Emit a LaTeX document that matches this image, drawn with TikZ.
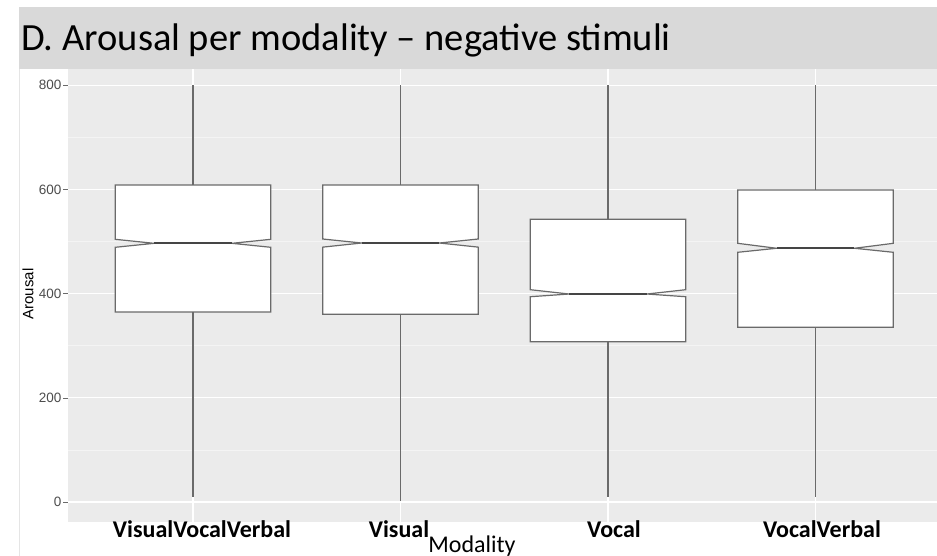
\documentclass[tikz,border=0pt]{standalone}
\usepackage{fontspec}
\setmainfont{Carlito}
\newfontfamily\plotfont{Liberation Sans}
\definecolor{titlegray}{HTML}{D9D9D9}
\definecolor{panelgray}{HTML}{EBEBEB}
\definecolor{minorgray}{HTML}{F4F4F4}
\definecolor{boxgray}{HTML}{6A6A6A}
\definecolor{medgray}{HTML}{454545}
\definecolor{ticktext}{HTML}{4D4D4D}
\tikzstyle{majorgrid}=[white,line width=1.1pt]
\tikzstyle{minorgrid}=[minorgray,line width=0.6pt]
\tikzstyle{boxline}=[draw=boxgray,fill=white,line width=1.2pt,line join=miter]
\tikzstyle{medline}=[medgray,line width=1.8pt]
\tikzstyle{whisker}=[boxgray,line width=1.1pt]
\tikzstyle{ticklabel}=[anchor=east,inner sep=0pt,text=ticktext,font=\plotfont\fontsize{13.5}{13.5}\selectfont]
\tikzstyle{catlabel}=[anchor=base,inner sep=0pt,font=\bfseries\fontsize{24}{24}\selectfont]

\begin{document}
\begin{tikzpicture}[x=1pt,y=-1pt]
    \useasboundingbox (0,0) rectangle (937,556);
    \fill[white] (0,0) rectangle (937,556);
    % title bar
    \fill[titlegray] (19,7) rectangle (937,69);
    \node[anchor=base west,inner sep=0pt,font=\fontsize{38.5}{38.5}\selectfont] (title) at (21,51) {D. Arousal per modality -- negative stimuli};
    \draw[gray!20,line width=0.6pt] (19,69) -- (19,556);
    % panel, data scope: y in arousal units
    \begin{scope}[shift={(0,502)},y={(0pt,0.521pt)}]
        \fill[panelgray] (68,-38) rectangle (937,831);
        \foreach \v in {100,300,500,700}
            \draw[minorgrid] (68,\v) -- (937,\v);
        \foreach \v in {0,200,400,600,800} {
            \draw[majorgrid] (68,\v) -- (937,\v);
            \draw[boxgray,line width=0.6pt] (63,\v) -- (68,\v);
            \node[ticklabel] (t\v) at (61.5,\v) {\v};
        }
        \foreach \c in {193,400.5,608,815.5}
            \draw[majorgrid] (\c,-38) -- (\c,831);
        % boxes: centre / low / q1 / notch low / median / notch high / q3 / high
        \foreach \c/\lo/\qa/\na/\md/\nb/\qb/\hi in {193/9.6/364.7/488.9/496.5/504.2/608.4/800,
                 400.5/2/360.3/489.2/497.1/504.8/608.4/800,
                 608/9.6/307.7/394/399.2/407.5/542.6/800,
                 815.5/9.6/335.3/479.3/487/496.5/598.8/800} {
            \draw[whisker] (\c,\qb) -- (\c,\hi);
            \draw[whisker] (\c,\qa) -- (\c,\lo);
            \draw[boxline] (\c-77.7,\qa) -- (\c-77.7,\na) -- (\c-38.9,\md) -- (\c-77.7,\nb)
                -- (\c-77.7,\qb) -- (\c+77.7,\qb) -- (\c+77.7,\nb) -- (\c+38.9,\md)
                -- (\c+77.7,\na) -- (\c+77.7,\qa) -- cycle;
            \draw[medline] (\c-38.9,\md) -- (\c+38.9,\md);
        }
    \end{scope}
    % axis titles and category labels
    \node[rotate=90,inner sep=0pt,font=\plotfont\fontsize{15}{15}\selectfont] (ylab) at (28,294) {Arousal};
    \node[catlabel] (c1) at (202,537) {VisualVocalVerbal};
    \node[catlabel] (c2) at (399,537) {Visual};
    \node[catlabel] (c3) at (614,537) {Vocal};
    \node[catlabel] (c4) at (822,537) {VocalVerbal};
    \node[anchor=base,inner sep=0pt,font=\fontsize{24}{24}\selectfont] (xlab) at (472,552) {Modality};
\end{tikzpicture}
\end{document}
